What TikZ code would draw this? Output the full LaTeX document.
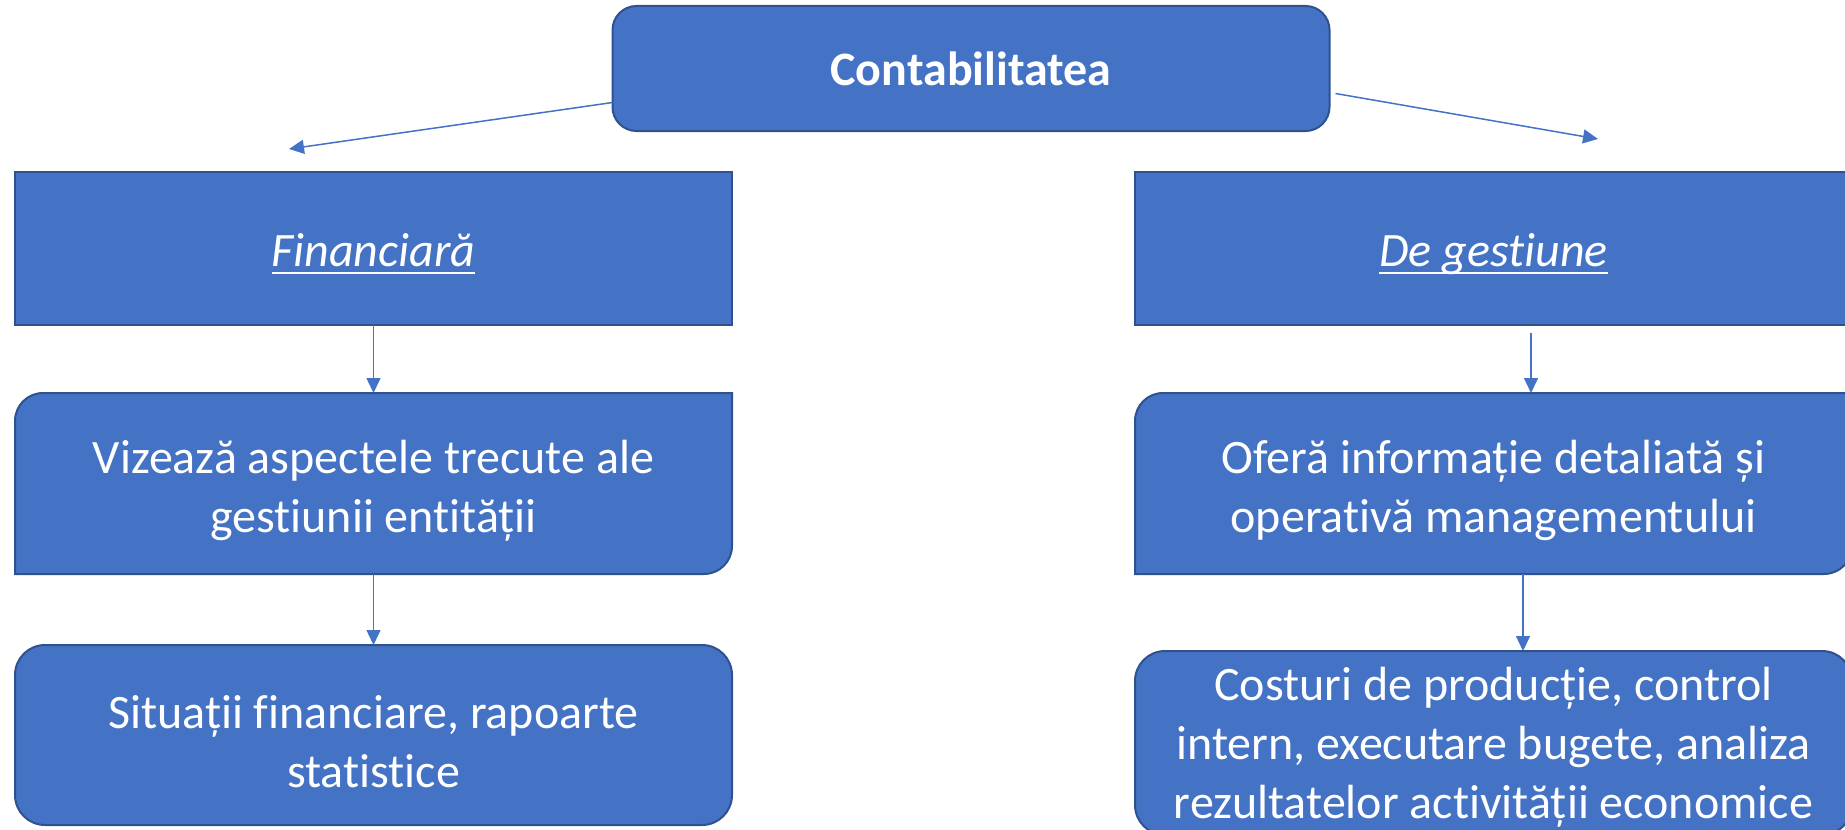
\documentclass[tikz,border=0pt]{standalone}
\usepackage{fontspec}
\setmainfont{Carlito}[Ligatures=NoCommon]
\usetikzlibrary{arrows.meta,backgrounds}
\definecolor{boxfill}{HTML}{4472C4}
\definecolor{boxline}{HTML}{2F528F}
\newcommand\myul[1]{\setbox0\hbox{#1}\rlap{\rule[-3.9pt]{\wd0}{1.3pt}}\box0}
\newcommand\topstrut{\rule{0pt}{23.5pt}}
\newcommand\onestrut{\rule[-5pt]{0pt}{28pt}}
\begin{document}
\begin{tikzpicture}[x=0.5pt,y=-0.5pt,
  base/.style={inner sep=0pt, outer sep=0pt, text=white, align=center,
    font=\fontsize{24}{29.5}\selectfont, minimum width=358.5pt},
  topbox/.style={base, fill=boxfill, draw=boxline, line width=1pt, rounded corners=12pt},
  roundbox/.style={base, fill=boxfill, draw=boxline, line width=1pt, rounded corners=15pt},
  sqbox/.style={base, fill=boxfill, draw=boxline, line width=1pt},
  diagbox/.style={base},
  diagshape/.style={fill=boxfill, draw=boxline, line width=1pt},
  arr/.style={draw=boxfill, line width=0.75pt, -{Triangle[length=7.5pt,width=7pt]}}
]
\useasboundingbox (0,0) rectangle (1845,829);

\node[topbox, minimum height=62.5pt, font=\fontsize{24}{29.5}\selectfont\bfseries] (top) at (971,68.5) {Contabilitatea};
\node[sqbox, minimum height=76.5pt] (fin) at (373.5,248.5) {\onestrut\itshape\myul{Financiară}};
\node[sqbox, minimum height=76.5pt] (ges) at (1493.5,248.5) {\onestrut\itshape\myul{De gestiune}};
\node[diagbox, minimum height=90.5pt] (viz) at (373.5,483.5) {\topstrut Vizează aspectele trecute ale\\gestiunii entității};
\node[diagbox, minimum height=90.5pt] (ofe) at (1493.5,483.5) {\topstrut Oferă informație detaliată și\\operativă managementului};
\node[roundbox, minimum height=90pt] (sit) at (373.5,735) {\topstrut Situații financiare, rapoarte\\statistice};
\node[roundbox, minimum height=92pt] (cos) at (1493.5,743) {\rule{0pt}{21pt}Costuri de producție, control\\intern, executare bugete, analiza\\rezultatelor activității economice};

\begin{scope}[on background layer]
\draw[diagshape] (viz.south west) -- ([yshift=-14pt]viz.north west) arc[start angle=180,end angle=90,radius=14pt] -- (viz.north east) -- ([yshift=14pt]viz.south east) arc[start angle=0,end angle=-90,radius=14pt] -- cycle;
\draw[diagshape] (ofe.south west) -- ([yshift=-14pt]ofe.north west) arc[start angle=180,end angle=90,radius=14pt] -- (ofe.north east) -- ([yshift=14pt]ofe.south east) arc[start angle=0,end angle=-90,radius=14pt] -- cycle;
\end{scope}

\coordinate (lt) at (289,149);
\coordinate (rt) at (1598,139);
\coordinate (g1) at (1531,333);
\coordinate (o1) at (1523,0);

\draw[arr] ([yshift=-17pt]top.west) -- (lt);
\draw[arr] ([xshift=3pt,yshift=-12.5pt]top.east) -- (rt);
\draw[arr] (fin) -- (viz);
\draw[arr] (viz) -- (sit);
\draw[arr] (g1) -- (g1 |- ofe.north);
\draw[arr] (ofe.south -| o1) -- (cos.north -| o1);
\end{tikzpicture}
\end{document}
